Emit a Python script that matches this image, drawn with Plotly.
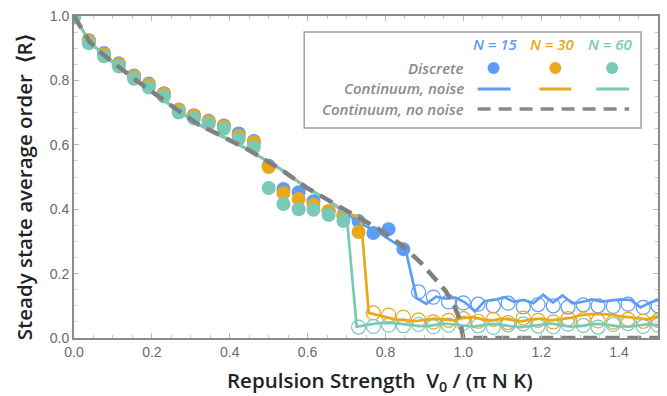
import plotly.graph_objects as go

# ---------------- data ----------------
grid_x = [0.0, 0.038, 0.077, 0.115, 0.154, 0.192, 0.231, 0.269, 0.308, 0.346,
          0.385, 0.423, 0.462, 0.5, 0.538, 0.577, 0.615, 0.654, 0.692, 0.731,
          0.769, 0.808, 0.846, 0.885, 0.923, 0.962, 1.0, 1.038, 1.077, 1.115,
          1.154, 1.192, 1.231, 1.269, 1.308, 1.346, 1.385, 1.423, 1.462, 1.5]

# Discrete simulation (filled = ordered, open = disordered)
blue_filled_y = [1.0, 0.925, 0.885, 0.853, 0.815, 0.79, 0.76, 0.71, 0.692, 0.675,
                 0.66, 0.635, 0.612, 0.535, 0.463, 0.453, 0.425, 0.394, 0.382, 0.363,
                 0.326, 0.338, 0.276]
blue_open_y = [0.143, 0.127, 0.112, 0.109, 0.105, 0.1, 0.108, 0.097, 0.104, 0.1,
               0.096, 0.103, 0.1, 0.098, 0.105, 0.095, 0.1]
orange_filled_y = [1.0, 0.922, 0.882, 0.85, 0.813, 0.787, 0.758, 0.708, 0.69, 0.672,
                   0.657, 0.628, 0.609, 0.531, 0.45, 0.432, 0.413, 0.394, 0.379, 0.329]
orange_open_y = [0.078, 0.071, 0.065, 0.056, 0.05, 0.055, 0.06, 0.052, 0.058, 0.048,
                 0.062, 0.055, 0.05, 0.06, 0.057, 0.053, 0.049, 0.058, 0.052, 0.055]
teal_filled_y = [0.995, 0.915, 0.875, 0.843, 0.805, 0.778, 0.75, 0.7, 0.682, 0.665,
                 0.65, 0.618, 0.593, 0.466, 0.416, 0.40, 0.398, 0.382, 0.363]
teal_open_y = [0.034, 0.036, 0.04, 0.038, 0.042, 0.035, 0.04, 0.046, 0.038, 0.033,
               0.041, 0.044, 0.037, 0.035, 0.043, 0.039, 0.034, 0.042, 0.045, 0.036, 0.04]

# Continuum without noise
nonoise_x = [0, 0.04, 0.075, 0.16, 0.24, 0.32, 0.44, 0.53, 0.6, 0.65, 0.73, 0.78,
             0.84, 0.89, 0.93, 0.955, 0.975, 0.99, 1.0, 1.5]
nonoise_y = [1.0, 0.92, 0.88, 0.80, 0.73, 0.663, 0.59, 0.525, 0.465, 0.43, 0.373, 0.34,
             0.29, 0.235, 0.18, 0.145, 0.105, 0.06, 0.0, 0.0]

# Continuum with noise
teal_cont_x = [0, 0.04, 0.075, 0.16, 0.24, 0.32, 0.44, 0.53, 0.6, 0.65, 0.70, 0.726,
               0.75, 0.775, 0.8, 0.825, 0.85, 0.875, 0.9, 0.925, 0.95, 0.975, 1.0,
               1.025, 1.05, 1.075, 1.1, 1.125, 1.15, 1.175, 1.2, 1.225, 1.25, 1.275,
               1.3, 1.325, 1.35, 1.375, 1.4, 1.425, 1.45, 1.475, 1.5]
teal_cont_y = [1.0, 0.92, 0.88, 0.80, 0.73, 0.663, 0.59, 0.525, 0.465, 0.43, 0.385, 0.035,
               0.04, 0.045, 0.047, 0.046, 0.042, 0.038, 0.036, 0.04, 0.045, 0.042, 0.038,
               0.035, 0.04, 0.044, 0.041, 0.036, 0.034, 0.038, 0.043, 0.045, 0.04, 0.035,
               0.037, 0.042, 0.044, 0.04, 0.036, 0.035, 0.04, 0.043, 0.04]
orange_cont_x = [0, 0.04, 0.075, 0.16, 0.24, 0.32, 0.44, 0.53, 0.6, 0.65, 0.70, 0.737,
                 0.757, 0.78, 0.8, 0.825, 0.85, 0.875, 0.9, 0.925, 0.95, 0.975, 1.0,
                 1.025, 1.05, 1.075, 1.1, 1.125, 1.15, 1.175, 1.2, 1.225, 1.25, 1.275,
                 1.3, 1.325, 1.35, 1.375, 1.4, 1.425, 1.45, 1.475, 1.5]
orange_cont_y = [1.0, 0.92, 0.88, 0.80, 0.73, 0.663, 0.59, 0.525, 0.465, 0.43, 0.39, 0.372,
                 0.078, 0.07, 0.065, 0.058, 0.055, 0.052, 0.056, 0.06, 0.058, 0.055, 0.062,
                 0.065, 0.058, 0.055, 0.06, 0.057, 0.052, 0.058, 0.06, 0.055, 0.058, 0.062,
                 0.07, 0.074, 0.075, 0.073, 0.068, 0.065, 0.06, 0.058, 0.068]
blue_cont_x = [0, 0.04, 0.075, 0.16, 0.24, 0.32, 0.44, 0.53, 0.6, 0.65, 0.73, 0.79,
               0.852, 0.88, 0.905, 0.93, 0.955, 0.98, 1.005, 1.03, 1.055, 1.08, 1.105,
               1.13, 1.155, 1.18, 1.205, 1.23, 1.255, 1.28, 1.305, 1.33, 1.355, 1.38,
               1.405, 1.43, 1.455, 1.48, 1.5]
blue_cont_y = [1.0, 0.92, 0.88, 0.80, 0.73, 0.663, 0.59, 0.525, 0.465, 0.43, 0.36, 0.322,
               0.273, 0.124, 0.106, 0.128, 0.122, 0.125, 0.11, 0.082, 0.115, 0.118, 0.127,
               0.112, 0.118, 0.108, 0.134, 0.11, 0.132, 0.108, 0.112, 0.12, 0.113, 0.117,
               0.12, 0.118, 0.095, 0.11, 0.118]

x_ticks = [0.0, 0.2, 0.4, 0.6, 0.8, 1.0, 1.2, 1.4]
y_ticks = [0.0, 0.2, 0.4, 0.6, 0.8, 1.0]

BLUE = "#5E9CF5"
ORANGE = "#E9A81A"
TEAL = "#78C9B7"
GRAY = "#808080"

fig = go.Figure()

# open circles (disordered)
for col, y, nfill in [(BLUE, blue_open_y, len(blue_filled_y)),
                      (ORANGE, orange_open_y, len(orange_filled_y)),
                      (TEAL, teal_open_y, len(teal_filled_y))]:
    fig.add_trace(go.Scatter(x=grid_x[nfill:nfill + len(y)], y=y, mode="markers",
                             marker=dict(symbol="circle-open", size=14, color=col,
                                         line=dict(width=1.2, color=col)),
                             showlegend=False))
# filled circles
for col, y in [(BLUE, blue_filled_y), (ORANGE, orange_filled_y), (TEAL, teal_filled_y)]:
    fig.add_trace(go.Scatter(x=grid_x[:len(y)], y=y, mode="markers",
                             marker=dict(symbol="circle", size=14, color=col),
                             showlegend=False))
# continuum noise lines
for col, x, y in [(BLUE, blue_cont_x, blue_cont_y), (ORANGE, orange_cont_x, orange_cont_y),
                  (TEAL, teal_cont_x, teal_cont_y)]:
    fig.add_trace(go.Scatter(x=x, y=y, mode="lines", line=dict(color=col, width=2.7),
                             showlegend=False))
# continuum no noise
fig.add_trace(go.Scatter(x=nonoise_x, y=nonoise_y, mode="lines",
                         line=dict(color=GRAY, width=4.5, dash="14px,8px"),
                         showlegend=False))

axis_common = dict(showline=True, linecolor="#8a8a8a", linewidth=2, mirror="allticks",
                   ticks="inside", ticklen=5, tickcolor="#b8b8b8", tickwidth=1,
                   showgrid=False, zeroline=False,
                   tickfont=dict(family="Liberation Sans, Arial", size=14, color="#6a6a6a"),
                   minor=dict(ticks="inside", ticklen=3, tickcolor="#c8c8c8", dtick=0.05))

fig.update_xaxes(range=[0, 1.5], tickvals=x_ticks, ticktext=[f"{v:.1f}" for v in x_ticks],
                 **axis_common)
fig.update_yaxes(range=[0, 1.0], tickvals=y_ticks, ticktext=[f"{v:.1f}" for v in y_ticks],
                 **axis_common)

W, H = 667, 396
L, R, T, B = 74, 7, 16, 58
PW, PH = W - L - R, H - T - B


def px(xp):
    return (xp - L) / PW


def py(yp):
    return (H - B - yp) / PH


annotations = [
    dict(text="Repulsion Strength  V<sub>0</sub> / (π N K)", xref="paper", yref="paper",
         x=px(381), y=py(381), xanchor="center", yanchor="middle", showarrow=False,
         font=dict(family="Open Sans", size=20.5, color="#222222", weight=600)),
    dict(text="Steady state average order  ⟨R⟩", xref="paper", yref="paper",
         x=px(24), y=py(187), xanchor="center", yanchor="middle", showarrow=False,
         textangle=-90,
         font=dict(family="Open Sans", size=20.5, color="#222222", weight=600)),
]

legend_font = dict(family="Open Sans", size=15, weight=600, style="italic")
for txt, col, cx in [("N = 15", BLUE, 497), ("N = 30", ORANGE, 554), ("N = 60", TEAL, 612)]:
    annotations.append(dict(text=txt, xref="paper", yref="paper", x=px(cx), y=py(44),
                            xanchor="center", yanchor="middle", showarrow=False,
                            font=dict(color=col, **legend_font)))
for txt, yy in [("Discrete", 68), ("Continuum, noise", 88), ("Continuum, no noise", 109)]:
    annotations.append(dict(text=txt, xref="paper", yref="paper", x=px(467), y=py(yy),
                            xanchor="right", yanchor="middle", showarrow=False,
                            font=dict(color="#8a8a8a", **legend_font)))

shapes = [dict(type="rect", xref="paper", yref="paper", x0=px(305), x1=px(643),
               y0=py(128), y1=py(32), line=dict(color="#a0a0a0", width=1.5),
               fillcolor="white", layer="above")]
for col, cx, lx0, lx1 in [(BLUE, 495, 479, 512), (ORANGE, 557, 541, 573), (TEAL, 614, 598, 631)]:
    shapes.append(dict(type="circle", xref="paper", yref="paper", x0=px(cx - 6), x1=px(cx + 6),
                       y0=py(74), y1=py(62), fillcolor=col, line=dict(width=0, color=col),
                       layer="above"))
    shapes.append(dict(type="line", xref="paper", yref="paper", x0=px(lx0), x1=px(lx1),
                       y0=py(89), y1=py(89), line=dict(color=col, width=3), layer="above"))
shapes.append(dict(type="line", xref="paper", yref="paper", x0=px(479), x1=px(631),
                   y0=py(109), y1=py(109), line=dict(color="#8a8a8a", width=3.5, dash="13px,8px"),
                   layer="above"))

fig.update_layout(width=W, height=H, margin=dict(l=L, r=R, t=T, b=B),
                  plot_bgcolor="white", paper_bgcolor="white",
                  annotations=annotations, shapes=shapes, showlegend=False)

fig.write_html("out.html", config={"displayModeBar": False},
               post_script="document.body.style.margin='0';document.body.style.overflow='hidden';")
